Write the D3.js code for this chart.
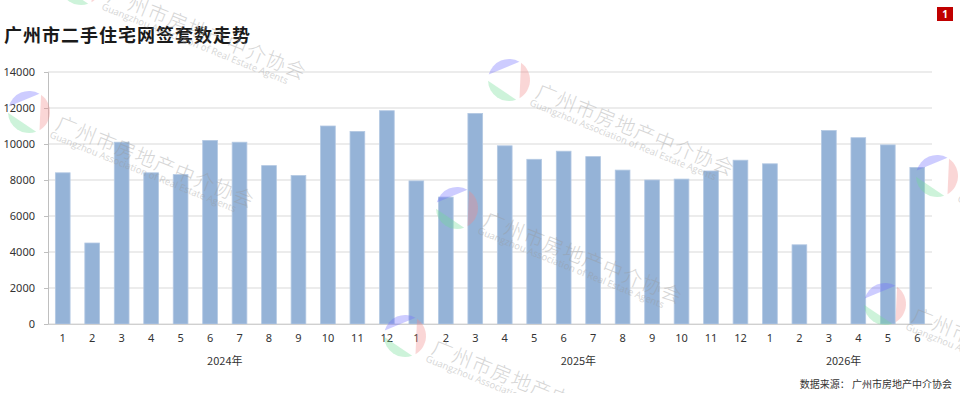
<!DOCTYPE html>
<html>
<head>
<meta charset="utf-8">
<script src="https://cdn.jsdelivr.net/npm/d3@7"></script>
<style>
  body { margin: 0; background: #fff; }
  svg { display: block; }
</style>
</head>
<body>
<div class="canvas"></div>
<script>
// data
const years = ['2024年', '2025年', '2026年'];
const monthsPerYear = [12, 12, 6];
const values2024 = [8400, 4500, 10100, 8400, 8300, 10200, 10100, 8800, 8250, 11000, 10700, 11850];
const values2025 = [7950, 7050, 11700, 9900, 9150, 9600, 9300, 8550, 8000, 8050, 8500, 9100];
const values2026 = [8900, 4400, 10750, 10350, 9950, 8700];
const yTicks = [0, 2000, 4000, 6000, 8000, 10000, 12000, 14000];

const width = 960, height = 393;
const margin = {top: 72, right: 28, bottom: 69, left: 48};
const graphWidth = width - margin.left - margin.right;
const graphHeight = height - margin.top - margin.bottom;

const data = [];
[values2024, values2025, values2026].forEach((vals, yi) => {
    vals.forEach((v, mi) => data.push({key: yi + '-' + (mi + 1), year: yi, month: mi + 1, value: v}));
});

const svg = d3.select('.canvas')
    .append('svg')
    .attr('width', width)
    .attr('height', height);

const graph = svg.append('g')
    .attr('transform', `translate(${margin.left}, ${margin.top})`);

const x = d3.scaleBand()
    .domain(data.map(d => d.key))
    .range([0, graphWidth])
    .paddingInner(0.5)
    .paddingOuter(0.25);

const y = d3.scaleLinear()
    .domain([0, 14000])
    .range([graphHeight, 0]);

// grid lines
graph.append('g')
    .selectAll('line')
    .data(yTicks)
    .join('line')
    .attr('x1', 0)
    .attr('x2', graphWidth)
    .attr('y1', d => y(d))
    .attr('y2', d => y(d))
    .attr('stroke', '#d9d9d9')
    .attr('stroke-width', 1);

// y axis
const yAxis = d3.axisLeft(y)
    .tickValues(yTicks)
    .tickFormat(d3.format('d'))
    .tickSize(4)
    .tickPadding(9);

const yAxisGroup = graph.append('g').call(yAxis);
yAxisGroup.select('.domain').attr('stroke', '#bfbfbf');
yAxisGroup.selectAll('.tick line').attr('stroke', '#bfbfbf');
yAxisGroup.selectAll('text')
    .attr('font-family', '"Noto Sans", sans-serif')
    .attr('font-size', 11)
    .attr('fill', '#333');

// bars
graph.append('g')
    .selectAll('rect')
    .data(data)
    .join('rect')
    .attr('x', d => x(d.key))
    .attr('width', x.bandwidth())
    .attr('y', d => y(d.value))
    .attr('height', d => graphHeight - y(d.value))
    .attr('fill', '#95b3d7')
    .attr('stroke', '#b4c9e3')
    .attr('stroke-width', 0.8);

// x axis
const xAxis = d3.axisBottom(x)
    .tickSize(0)
    .tickPadding(10)
    .tickFormat(k => k.split('-')[1]);

const xAxisGroup = graph.append('g')
    .attr('transform', `translate(0, ${graphHeight})`)
    .call(xAxis);
xAxisGroup.select('.domain').attr('stroke', '#d0d0d0');
xAxisGroup.selectAll('text')
    .attr('font-family', '"Noto Sans", sans-serif')
    .attr('font-size', 11)
    .attr('fill', '#333');

// year labels
let start = 0;
const yearPos = years.map((yr, i) => {
    const first = data[start].key, last = data[start + monthsPerYear[i] - 1].key;
    start += monthsPerYear[i];
    return {label: yr, cx: (x(first) + x(last) + x.bandwidth()) / 2};
});

graph.append('g')
    .selectAll('text')
    .data(yearPos)
    .join('text')
    .attr('x', d => d.cx)
    .attr('y', graphHeight + 41)
    .attr('text-anchor', 'middle')
    .attr('font-family', '"Noto Sans CJK SC", sans-serif')
    .attr('font-size', 11)
    .attr('fill', '#333')
    .text(d => d.label);

// title
svg.append('text')
    .attr('x', 4)
    .attr('y', 42)
    .attr('font-family', '"Noto Sans CJK SC", sans-serif')
    .attr('font-weight', 'bold')
    .attr('font-size', 18)
    .attr('letter-spacing', 1)
    .attr('fill', '#1a1a1a')
    .text('广州市二手住宅网签套数走势');

// page badge
svg.append('rect')
    .attr('x', 937).attr('y', 7)
    .attr('width', 16).attr('height', 14)
    .attr('fill', '#c00000');
svg.append('text')
    .attr('x', 945).attr('y', 18)
    .attr('text-anchor', 'middle')
    .attr('font-family', '"Noto Sans", sans-serif')
    .attr('font-weight', 'bold')
    .attr('font-size', 10)
    .attr('fill', '#fff')
    .text('1');

// source
svg.append('text')
    .attr('x', 952)
    .attr('y', 388)
    .attr('text-anchor', 'end')
    .attr('font-family', '"Noto Sans CJK SC", sans-serif')
    .attr('font-size', 10)
    .attr('fill', '#333')
    .text('数据来源：  广州市房地产中介协会');

// watermarks (logo centres)
const marks = [[81, -16], [29, 112], [509, 80], [457, 208], [405, 336], [937, 176], [885, 304]];

const segment = (r, a0, a1) => {
    const p = d3.path();
    p.arc(0, 0, r, a0 * Math.PI / 180, a1 * Math.PI / 180);
    p.closePath();
    return p.toString();
};

const wm = svg.append('g').attr('pointer-events', 'none');
const wmG = wm.selectAll('g')
    .data(marks)
    .join('g')
    .attr('transform', d => `translate(${d[0]}, ${d[1]})`);

const pieces = [
    {a0: 195, a1: 300, color: '#6f6cff'},
    {a0: 305, a1: 420, color: '#f28a8a'},
    {a0: 70, a1: 178, color: '#6fdc95'}
];
wmG.selectAll('path')
    .data(pieces)
    .join('path')
    .attr('d', d => segment(21, d.a0, d.a1))
    .attr('fill', d => d.color)
    .attr('opacity', 0.35);

const wmText = wmG.append('g').attr('transform', 'rotate(22)');
wmText.append('text')
    .attr('x', 30)
    .attr('y', 6)
    .attr('font-family', '"Noto Sans CJK SC", sans-serif')
    .attr('font-weight', 300)
    .attr('font-size', 20)
    .attr('letter-spacing', 1.2)
    .attr('fill', '#999')
    .attr('opacity', 0.4)
    .text('广州市房地产中介协会');
wmText.append('text')
    .attr('x', 28)
    .attr('y', 16)
    .attr('font-family', '"Open Sans", sans-serif')
    .attr('font-size', 9.5)
    .attr('textLength', 200)
    .attr('fill', '#999')
    .attr('opacity', 0.4)
    .text('Guangzhou Association of Real Estate Agents');
</script>
</body>
</html>
